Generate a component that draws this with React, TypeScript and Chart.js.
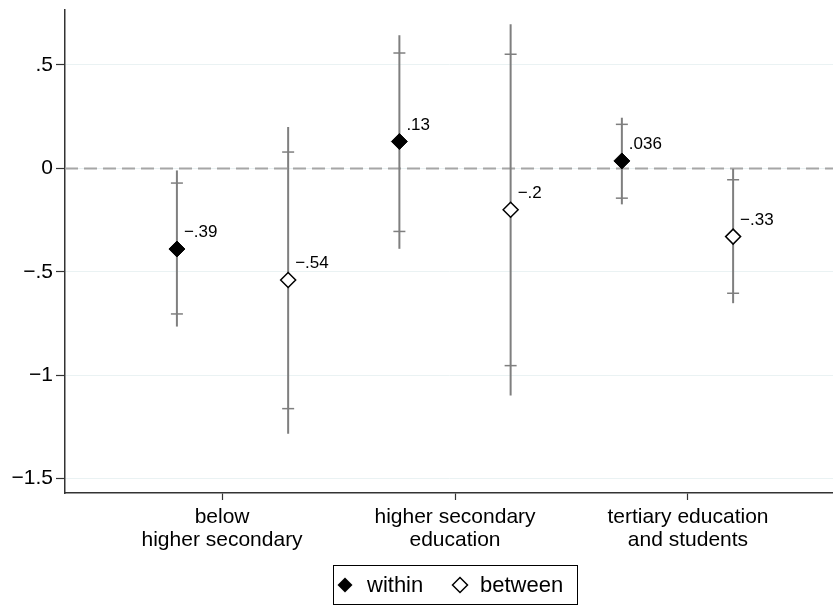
import React, { useEffect, useRef } from "react";
import { Chart, registerables } from "chart.js";

Chart.register(...registerables);

const categories: string[][] = [
  ["below", "higher secondary"],
  ["higher secondary", "education"],
  ["tertiary education", "and students"],
];
const categoryPositions = [1, 2, 3];
const labelPositions = [0.953, 2, 3.047];

const withinEst = [-0.39, 0.13, 0.036];
const withinInnerLo = [-0.704, -0.305, -0.144];
const withinInnerHi = [-0.071, 0.558, 0.213];
const withinOuterLo = [-0.765, -0.389, -0.174];
const withinOuterHi = [-0.01, 0.644, 0.245];

const betweenEst = [-0.54, -0.2, -0.33];
const betweenInnerLo = [-1.162, -0.954, -0.604];
const betweenInnerHi = [0.079, 0.552, -0.055];
const betweenOuterLo = [-1.283, -1.099, -0.652];
const betweenOuterHi = [0.2, 0.697, -0.002];

const yTickValues = [-1.5, -1, -0.5, 0, 0.5];
const yTickLabels = ["\u22121.5", "\u22121", "\u2212.5", "0", ".5"];

const seriesNames = ["within", "between"];
const OFFSET = 0.25;
const FONT = "'Liberation Sans', Arial, Helvetica, sans-serif";

function fmt(v: number): string {
  const s = String(v).replace(/^(-?)0\./, "$1.");
  return s.replace("-", "\u2212");
}

export default function App() {
  const ref = useRef<HTMLCanvasElement | null>(null);

  useEffect(() => {
    if (!ref.current) return;

    const series = [
      {
        est: withinEst,
        ilo: withinInnerLo,
        ihi: withinInnerHi,
        olo: withinOuterLo,
        ohi: withinOuterHi,
        off: -OFFSET,
      },
      {
        est: betweenEst,
        ilo: betweenInnerLo,
        ihi: betweenInnerHi,
        olo: betweenOuterLo,
        ohi: betweenOuterHi,
        off: OFFSET,
      },
    ];

    const overlay = {
      id: "overlay",
      beforeDatasetsDraw(chart: any) {
        const { ctx, chartArea, scales } = chart;
        const xs = scales.x;
        const ys = scales.y;
        ctx.save();
        ctx.strokeStyle = "#a6a6a6";
        ctx.lineWidth = 2;
        ctx.setLineDash([13, 6]);
        const y0 = ys.getPixelForValue(0);
        ctx.beginPath();
        ctx.moveTo(chartArea.left, y0);
        ctx.lineTo(chartArea.right, y0);
        ctx.stroke();
        ctx.setLineDash([]);
        ctx.strokeStyle = "#7f7f7f";
        for (const s of series) {
          categoryPositions.forEach((c, i) => {
            const px = xs.getPixelForValue(c + s.off);
            ctx.lineWidth = 2;
            ctx.beginPath();
            ctx.moveTo(px, ys.getPixelForValue(s.olo[i]));
            ctx.lineTo(px, ys.getPixelForValue(s.ohi[i]));
            ctx.stroke();
            ctx.lineWidth = 1.5;
            for (const v of [s.ilo[i], s.ihi[i]]) {
              const py = ys.getPixelForValue(v);
              ctx.beginPath();
              ctx.moveTo(px - 6, py);
              ctx.lineTo(px + 6, py);
              ctx.stroke();
            }
          });
        }
        ctx.restore();
      },
      afterDatasetsDraw(chart: any) {
        const { ctx, scales } = chart;
        const xs = scales.x;
        const ys = scales.y;
        ctx.save();
        ctx.fillStyle = "#000";
        ctx.font = `17px ${FONT}`;
        ctx.textAlign = "left";
        ctx.textBaseline = "alphabetic";
        for (const s of series) {
          categoryPositions.forEach((c, i) => {
            const px = xs.getPixelForValue(c + s.off);
            const py = ys.getPixelForValue(s.est[i]);
            ctx.fillText(fmt(s.est[i]), px + 7, py - 12);
          });
        }
        ctx.restore();
      },
      afterDraw(chart: any) {
        const { ctx } = chart;
        ctx.save();
        ctx.strokeStyle = "#000";
        ctx.lineWidth = 1;
        ctx.strokeRect(333.5, 565.5, 244, 39);
        const cy = 585;
        const diamond = (x: number, filled: boolean) => {
          const r = 7.5;
          ctx.beginPath();
          ctx.moveTo(x - r, cy);
          ctx.lineTo(x, cy - r);
          ctx.lineTo(x + r, cy);
          ctx.lineTo(x, cy + r);
          ctx.closePath();
          if (filled) {
            ctx.fillStyle = "#000";
            ctx.fill();
          } else {
            ctx.fillStyle = "#fff";
            ctx.fill();
            ctx.lineWidth = 1.5;
            ctx.strokeStyle = "#000";
            ctx.stroke();
          }
        };
        diamond(345, true);
        diamond(460, false);
        ctx.fillStyle = "#000";
        ctx.font = `22px ${FONT}`;
        ctx.textAlign = "left";
        ctx.textBaseline = "middle";
        ctx.fillText(seriesNames[0], 367, cy + 1);
        ctx.fillText(seriesNames[1], 480, cy + 1);
        ctx.restore();
      },
    };

    const chart = new Chart(ref.current, {
      type: "scatter",
      data: {
        datasets: [
          {
            label: seriesNames[0],
            data: categoryPositions.map((c, i) => ({ x: c - OFFSET, y: withinEst[i] })),
            pointStyle: "rectRot",
            pointRadius: 8,
            pointBackgroundColor: "#000",
            pointBorderColor: "#000",
            pointBorderWidth: 1,
          },
          {
            label: seriesNames[1],
            data: categoryPositions.map((c, i) => ({ x: c + OFFSET, y: betweenEst[i] })),
            pointStyle: "rectRot",
            pointRadius: 7.5,
            pointBackgroundColor: "#fff",
            pointBorderColor: "#000",
            pointBorderWidth: 1.5,
          },
        ],
      },
      options: {
        animation: false,
        responsive: false,
        maintainAspectRatio: false,
        layout: { autoPadding: false, padding: { top: 10, right: 0, left: 0, bottom: 0 } },
        plugins: {
          legend: { display: false },
          tooltip: { enabled: false },
        },
        scales: {
          x: {
            type: "linear",
            min: 0.247,
            max: 3.699,
            afterFit(scale: any) {
              scale.height = 113;
              scale.paddingLeft = 0;
              scale.paddingRight = 0;
              scale.paddingTop = 0;
              scale.paddingBottom = 0;
            },
            afterBuildTicks(scale: any) {
              scale.ticks = labelPositions.map((v) => ({ value: v }));
            },
            border: { color: "#333", width: 1.5 },
            grid: {
              drawOnChartArea: false,
              drawTicks: true,
              tickLength: 7,
              tickColor: "#333",
              tickWidth: 1.2,
            },
            ticks: {
              autoSkip: false,
              maxRotation: 0,
              padding: 6,
              color: "#000",
              font: { family: FONT, size: 21, lineHeight: 1.1 },
              callback: (_v: any, i: number) => categories[i],
            },
          },
          y: {
            type: "linear",
            min: -1.57,
            max: 0.766,
            afterFit(scale: any) {
              scale.width = 65;
              scale.paddingLeft = 0;
              scale.paddingRight = 0;
              scale.paddingTop = 0;
              scale.paddingBottom = 0;
            },
            afterBuildTicks(scale: any) {
              scale.ticks = yTickValues.map((v) => ({ value: v }));
            },
            border: { color: "#333", width: 1.5 },
            grid: {
              color: "#eaf2f3",
              lineWidth: 1,
              drawTicks: true,
              tickLength: 9,
              tickColor: "#333",
              tickWidth: 1.2,
            },
            ticks: {
              padding: 3,
              color: "#000",
              font: { family: FONT, size: 21 },
              callback: (_v: any, i: number) => yTickLabels[i],
            },
          },
        },
      },
      plugins: [overlay],
    } as any);

    return () => chart.destroy();
  }, []);

  return (
    <div style={{ position: "fixed", left: 0, top: 0, width: 833, height: 606, background: "#fff" }}>
      <canvas ref={ref} width={833} height={606} style={{ width: 833, height: 606 }} />
    </div>
  );
}
